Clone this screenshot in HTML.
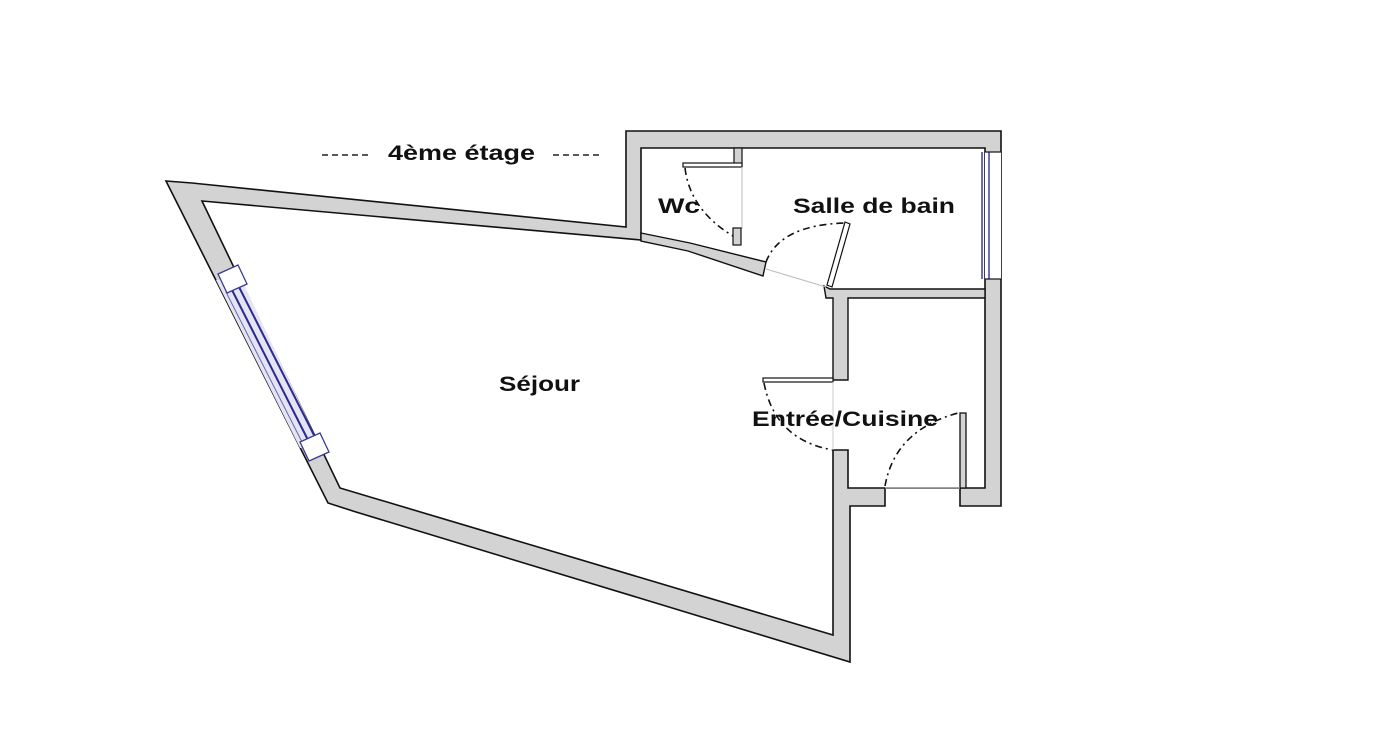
<!DOCTYPE html>
<html><head><meta charset="utf-8"><style>
html,body{margin:0;padding:0;background:#fff;}
svg{display:block;}
text{font-family:"Liberation Sans","DejaVu Sans",sans-serif;font-weight:bold;fill:#111;}
</style></head><body>
<svg width="1396" height="732" viewBox="0 0 1396 732" xmlns="http://www.w3.org/2000/svg">
<polygon points="166,181 192,183 626,227 626,131 1001,131 1001,506 960,506 960,488 885,488 885,506 850,506 850,662 356,512 328,503" fill="#d3d3d3" stroke="#111" stroke-width="1.6"/>
<polygon points="202,201 641,240 641,148 985,148 985,488 848,488 848,450 833,450 833,635 340,488" fill="#fff" stroke="#111" stroke-width="1.6"/>
<polygon points="641,233 690,243 766,262 763,276 688,251 641,241" fill="#d3d3d3" stroke="#111" stroke-width="1.4"/>
<polygon points="824,286 830,289 985,289 985,298 848,298 848,380 833,380 833,298 826,298" fill="#d3d3d3" stroke="#111" stroke-width="1.4"/>
<rect x="960" y="413" width="6" height="75" fill="#d3d3d3" stroke="#111" stroke-width="1.3"/>
<rect x="985" y="152" width="16" height="127" fill="#fff"/>
<line x1="982" y1="152" x2="982" y2="279" stroke="#3a3aa0" stroke-width="1.5"/>
<line x1="989" y1="152" x2="989" y2="279" stroke="#3a3aa0" stroke-width="1.5"/>
<line x1="985" y1="152" x2="1001" y2="152" stroke="#111" stroke-width="1.2"/>
<line x1="985" y1="279" x2="1001" y2="279" stroke="#111" stroke-width="1.2"/>
<rect x="734" y="148" width="8" height="17" fill="#d3d3d3" stroke="#111" stroke-width="1.2"/>
<rect x="683" y="163" width="59" height="4" fill="#fff" stroke="#111" stroke-width="1.2"/>
<line x1="742" y1="167" x2="742" y2="229" stroke="#bbb" stroke-width="1"/>
<rect x="733" y="228" width="8" height="17" fill="#d3d3d3" stroke="#111" stroke-width="1.2"/>
<polygon points="845,222 850,224 832,287 827,285" fill="#fff" stroke="#111" stroke-width="1.2"/>
<line x1="766" y1="269" x2="826" y2="287" stroke="#bbb" stroke-width="1"/>
<g fill="none" stroke="#111" stroke-width="1.6" stroke-dasharray="7,4,2,4">
<path d="M685,168 Q690,210 733,236"/>
<path d="M766,262 Q780,225 845,223"/>
<path d="M764,383 Q775,440 833,450"/>
<path d="M885,486 Q895,430 958,413"/>
</g>
<rect x="763" y="378" width="70" height="4" fill="#fff" stroke="#111" stroke-width="1.2"/>
<line x1="833" y1="382" x2="833" y2="450" stroke="#ccc" stroke-width="1"/>
<line x1="885" y1="488" x2="960" y2="488" stroke="#bbb" stroke-width="1"/>
<polygon points="216,280 240,276 320,446 300,448" fill="#e4e4f2"/>
<line x1="232" y1="290" x2="308" y2="440" stroke="#2a2a90" stroke-width="2"/>
<line x1="239" y1="287" x2="315" y2="437" stroke="#2a2a90" stroke-width="2"/>
<line x1="226" y1="292" x2="302" y2="442" stroke="#6a6ab0" stroke-width="1"/>
<polygon points="218,274 238,265 247,284 227,293" fill="#fff" stroke="#3a3a90" stroke-width="1.3"/>
<polygon points="300,442 320,433 329,452 309,461" fill="#fff" stroke="#3a3a90" stroke-width="1.3"/>
<line x1="322" y1="155" x2="370" y2="155" stroke="#222" stroke-width="1.5" stroke-dasharray="6,4"/>
<line x1="553" y1="155" x2="602" y2="155" stroke="#222" stroke-width="1.5" stroke-dasharray="6,4"/>
<text x="388" y="160" font-size="21" textLength="147" lengthAdjust="spacingAndGlyphs">4ème étage</text>
<text x="658" y="213" font-size="21" textLength="42" lengthAdjust="spacingAndGlyphs">Wc</text>
<text x="793" y="213" font-size="21" textLength="162" lengthAdjust="spacingAndGlyphs">Salle de bain</text>
<text x="499" y="391" font-size="21" textLength="81" lengthAdjust="spacingAndGlyphs">Séjour</text>
<text x="752" y="426" font-size="21" textLength="186" lengthAdjust="spacingAndGlyphs">Entrée/Cuisine</text>
</svg>
</body></html>
